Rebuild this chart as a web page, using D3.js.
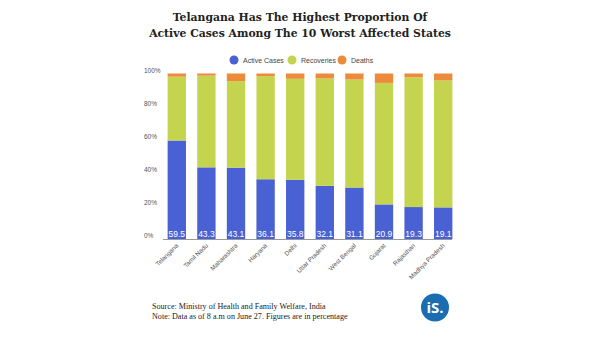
<!DOCTYPE html>
<html>
<head>
<meta charset="utf-8">
<script src="https://cdn.jsdelivr.net/npm/d3@7"></script>
<style>
  body { margin: 0; background: #fff; }
  svg { display: block; }
</style>
</head>
<body>
<svg id="chart"></svg>
<script>
// share of each state's cases, in percent
const states = ["Telangana", "Tamil Nadu", "Maharashtra", "Haryana", "Delhi",
  "Uttar Pradesh", "West Bengal", "Gujarat", "Rajasthan", "Madhya Pradesh"];
const active = [59.5, 43.3, 43.1, 36.1, 35.8, 32.1, 31.1, 20.9, 19.3, 19.1];
const deaths = [1.9, 1.3, 4.6, 1.6, 3.2, 3.0, 3.6, 5.7, 2.3, 4.2];
const recoveries = active.map((a, i) => +(100 - a - deaths[i]).toFixed(1));
const seriesNames = ["Active Cases", "Recoveries", "Deaths"];
const yTicks = [0, 20, 40, 60, 80, 100];

const width = 600, height = 338;
const colors = { "Active Cases": "#4a61d3", "Recoveries": "#c4d44e", "Deaths": "#ee8a3c" };

const svg = d3.select("#chart")
  .attr("width", width)
  .attr("height", height)
  .attr("viewBox", [0, 0, width, height]);

// title, fitted to width
const titleLines = ["Telangana Has The Highest Proportion Of",
  "Active Cases Among The 10 Worst Affected States"];
const title = svg.append("g")
  .attr("font-family", "'DejaVu Serif', serif")
  .attr("font-weight", "bold")
  .attr("fill", "#222")
  .attr("text-anchor", "middle");
const t2 = title.append("text").attr("x", 300).attr("y", 37).attr("font-size", 14).text(titleLines[1]);
const fs = 14 * 302 / t2.node().getComputedTextLength();
t2.attr("font-size", fs);
title.append("text").attr("x", 300).attr("y", 21).attr("font-size", fs).text(titleLines[0]);

const x = d3.scaleBand().domain(states).range([162, 458]).paddingInner(0.38).paddingOuter(0.19);
const y = d3.scaleLinear().domain([0, 100]).range([239, 73.5]);

const rows = states.map((s, i) => ({
  state: s,
  "Active Cases": active[i],
  "Recoveries": recoveries[i],
  "Deaths": deaths[i]
}));
const stacked = d3.stack().keys(seriesNames)(rows);

// y axis labels, left aligned
svg.append("g")
  .attr("font-family", "'Liberation Sans', Arial, sans-serif")
  .attr("font-size", 6.5)
  .attr("fill", "#555")
  .selectAll("text")
  .data(yTicks)
  .join("text")
  .attr("x", 144)
  .attr("y", d => y(d) - 1)
  .text(d => d + "%");

svg.append("g")
  .selectAll("g")
  .data(stacked)
  .join("g")
  .attr("fill", d => colors[d.key])
  .selectAll("rect")
  .data(d => d)
  .join("rect")
  .attr("x", d => x(d.data.state))
  .attr("width", x.bandwidth())
  .attr("y", d => y(d[1]))
  .attr("height", d => y(d[0]) - y(d[1]));

// baseline
svg.append("line")
  .attr("x1", 163).attr("x2", 452)
  .attr("y1", y(0) + 0.5).attr("y2", y(0) + 0.5)
  .attr("stroke", "#999").attr("stroke-width", 1);

// active case values at the bar bottoms
svg.append("g")
  .attr("font-family", "'Liberation Sans', Arial, sans-serif")
  .attr("font-size", 8.5)
  .attr("fill", "#fff")
  .attr("text-anchor", "middle")
  .selectAll("text")
  .data(rows)
  .join("text")
  .attr("x", d => x(d.state) + x.bandwidth() / 2)
  .attr("y", y(0) - 2)
  .text(d => d["Active Cases"]);

// rotated state names
svg.append("g")
  .attr("font-family", "'Liberation Sans', Arial, sans-serif")
  .attr("font-size", 6.3)
  .attr("fill", "#555")
  .attr("text-anchor", "end")
  .selectAll("text")
  .data(states)
  .join("text")
  .attr("transform", d => `translate(${x(d) + x.bandwidth() / 2 + 2},${y(0) + 7}) rotate(-45)`)
  .text(d => d);

// legend
const legendX = [234, 292, 342];
const legend = svg.append("g")
  .attr("font-family", "'Liberation Sans', Arial, sans-serif")
  .attr("font-size", 7)
  .attr("fill", "#444")
  .selectAll("g")
  .data(seriesNames)
  .join("g")
  .attr("transform", (d, i) => `translate(${legendX[i]},60)`);
legend.append("circle").attr("r", 4.5).attr("fill", d => colors[d]);
legend.append("text").attr("x", 9).attr("y", 2.5).text(d => d);

// footer
const foot = svg.append("g")
  .attr("font-family", "'Liberation Serif', 'Times New Roman', serif")
  .attr("font-size", 8.1)
  .attr("fill", "#222");
foot.append("text").attr("x", 152).attr("y", 309).text("Source: Ministry of Health and Family Welfare, India");
foot.append("text").attr("x", 152).attr("y", 319).text("Note: Data as of 8 a.m on June 27. Figures are in percentage");

// logo
const logo = svg.append("g").attr("transform", "translate(435,307.5)");
logo.append("circle").attr("r", 14).attr("fill", "#1b6db1");
logo.append("text")
  .attr("text-anchor", "middle")
  .attr("y", 5.5)
  .attr("font-family", "'Open Sans', 'Liberation Sans', sans-serif")
  .attr("font-weight", "bold")
  .attr("font-size", 15)
  .attr("fill", "#fff")
  .text("iS.");
</script>
</body>
</html>
